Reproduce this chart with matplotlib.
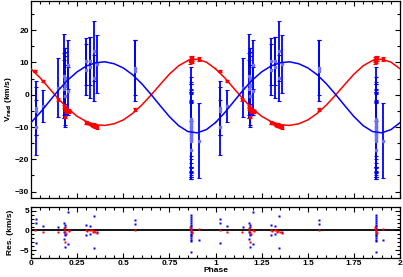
import numpy as np
import matplotlib.pyplot as plt
from matplotlib.ticker import MultipleLocator, FixedLocator

plt.rcParams['font.family'] = ['Liberation Sans', 'DejaVu Sans']
plt.rcParams['font.weight'] = 'bold'
plt.rcParams['mathtext.default'] = 'bf'

# fitted orbit, sampled every 0.05 in phase (one cycle)
model_phase = [0.00, 0.05, 0.10, 0.15, 0.20, 0.25, 0.30, 0.35, 0.40, 0.45, 0.50,
               0.55, 0.60, 0.65, 0.70, 0.75, 0.80, 0.85, 0.90, 0.95, 1.00]
red_model = [8.0, 5.2, 1.9, -1.4, -4.3, -6.7, -8.3, -9.3, -9.5, -9.0, -7.8,
             -5.8, -3.2, -0.1, 3.2, 6.4, 9.0, 10.6, 11.0, 10.1, 8.0]
blue_model = [-8.6, -5.5, -2.0, 1.5, 4.6, 7.1, 8.9, 9.9, 10.2, 9.6, 8.3,
              6.2, 3.4, 0.1, -3.4, -6.8, -9.6, -11.4, -11.8, -10.8, -8.6]

# primary (red) velocities
red_phase = [0.024, 0.063, 0.145, 0.180, 0.183, 0.184, 0.186, 0.190, 0.205, 0.208,
             0.298, 0.303, 0.322, 0.328, 0.334, 0.340, 0.348, 0.358, 0.561,
             0.862, 0.865, 0.868, 0.871, 0.874, 0.908]
red_vel = [7.4, 4.2, -1.4, -3.6, -4.2, -6.9, -4.6, -5.2, -4.9, -5.2,
           -8.6, -8.8, -9.0, -9.3, -9.6, -9.3, -9.8, -10.0, -4.5,
           10.4, 10.8, 11.1, 10.6, 11.3, 11.1]
red_err = [0.4, 0.4, 0.4, 0.4, 0.4, 0.4, 0.4, 0.4, 0.4, 0.4,
           0.4, 0.4, 0.4, 0.4, 0.4, 0.4, 0.6, 0.6, 0.4,
           0.8, 0.8, 0.8, 0.8, 0.8, 0.5]
red_res = [0.1, -0.5, -0.5, 0.5, 0.2, -3.0, -0.3, -0.8, 0.1, -0.2,
           0.1, -0.2, 0.2, 0.1, -0.3, -0.1, -0.4, -0.6, 0.1,
           0.8, 0.4, 0.0, -0.3, -0.6, 0.4]

# secondary (blue) velocities
blue_phase = [0.025, 0.025, 0.025, 0.063, 0.147,
              0.180, 0.180, 0.180, 0.184, 0.184, 0.184, 0.184, 0.184,
              0.200, 0.200, 0.298, 0.298, 0.322, 0.322, 0.342, 0.342, 0.360,
              0.561, 0.561,
              0.868, 0.868, 0.868, 0.868, 0.868, 0.868, 0.868, 0.868, 0.868,
              0.868, 0.868, 0.868, 0.868, 0.868, 0.868, 0.868, 0.868,
              0.909]
blue_vel = [-4.0, -5.1, -10.1, -3.4, 2.2,
            5.8, 3.3, 1.7, 5.1, 4.6, 2.6, -0.4, 3.0,
            9.3, 1.1, 10.3, 7.7, 10.5, 8.5, 13.6, 5.2, 9.6,
            8.4, 7.5,
            -7.5, -8.0, -8.5, -9.1, -9.7, -10.1, -10.4, -10.8, -11.3,
            -11.8, -12.3, -12.6, -13.0, -13.5, -13.9, -14.3, -17.1,
            -14.2]
blue_err = [8.4, 7.5, 8.5, 5.0, 9.2,
            13.0, 9.5, 9.0, 8.0, 10.0, 12.0, 9.6, 9.0,
            7.6, 7.5, 7.2, 7.9, 7.4, 9.5, 9.3, 7.0, 9.0,
            8.5, 9.5,
            16.0, 12.0, 14.0, 10.0, 13.0, 11.0, 12.0, 14.0, 13.0,
            12.0, 10.0, 13.0, 11.0, 12.0, 11.5, 11.8, 9.0,
            11.5]
blue_res = [3.0, 1.9, -3.1, 1.2, 0.85,
            2.0, -0.5, -2.1, 1.3, 0.8, -1.2, -4.2, -0.9,
            4.7, -3.5, 1.4, -1.2, 1.1, -0.9, 3.8, -4.6, -0.3,
            2.6, 1.7,
            4.0, 3.5, 3.0, 2.4, 1.8, 1.4, 1.1, 0.7, 0.2,
            -0.3, -0.8, -1.1, -1.5, -2.0, -2.4, -2.8, -5.6,
            -2.4]

phase_ticks = [0, 0.25, 0.5, 0.75, 1, 1.25, 1.5, 1.75, 2]
phase_labels = ['0', '0.25', '0.5', '0.75', '1', '1.25', '1.5', '1.75', '2']


def two_cycles(x):
    x = np.asarray(x, dtype=float)
    return np.concatenate([x, x + 1.0])


def twice(y):
    y = np.asarray(y, dtype=float)
    return np.concatenate([y, y])


fig = plt.figure(figsize=(4.03, 2.77), dpi=100)
ax = fig.add_axes([0.077, 0.285, 0.916, 0.711])
axr = fig.add_axes([0.077, 0.069, 0.916, 0.184])

RED = '#ff0000'
BLUE = '#0000ff'
FS = 6.0

# model curves
for k in (0, 1):
    mp = np.asarray(model_phase) + k
    ax.plot(mp, red_model, color=RED, lw=1.1, zorder=3)
    ax.plot(mp, blue_model, color=BLUE, lw=1.1, zorder=3)

# observed velocities
ax.errorbar(two_cycles(blue_phase), twice(blue_vel), yerr=twice(blue_err),
            fmt='s', ms=1.6, mfc='#6f6fff', mec='#6f6fff', ecolor=BLUE,
            elinewidth=1.3, capsize=1.4, capthick=0.8, zorder=2)
ax.errorbar(two_cycles(red_phase), twice(red_vel), yerr=twice(red_err),
            fmt='s', ms=2.0, mfc=RED, mec=RED, ecolor=RED,
            elinewidth=1.0, capsize=1.2, capthick=0.8, zorder=4)

ax.set_xlim(0, 2)
ax.set_ylim(-32, 29)
ax.set_ylabel(r'V$_{\rm rad}$ (km/s)', fontsize=FS, fontweight='bold')
ax.yaxis.set_major_locator(MultipleLocator(10))
ax.yaxis.set_minor_locator(MultipleLocator(5))
ax.xaxis.set_major_locator(FixedLocator(phase_ticks))
ax.xaxis.set_minor_locator(MultipleLocator(0.05))
ax.tick_params(labelbottom=False)

# residuals
axr.axhline(0, color='black', lw=1.3, zorder=1)
axr.plot(two_cycles(blue_phase), twice(blue_res), 's', ms=1.5,
         color=BLUE, mec='none', zorder=2)
axr.plot(two_cycles(red_phase), twice(red_res), 's', ms=1.6,
         color=RED, mec='none', zorder=3)
axr.set_xlim(0, 2)
axr.set_ylim(-7, 6)
axr.set_xticks(phase_ticks)
axr.set_xticklabels(phase_labels)
axr.xaxis.set_minor_locator(MultipleLocator(0.05))
axr.yaxis.set_major_locator(MultipleLocator(5))
axr.yaxis.set_minor_locator(MultipleLocator(1))
axr.set_xlabel('Phase', fontsize=FS, fontweight='bold', labelpad=0)
axr.set_ylabel('Res. (km/s)', fontsize=FS, fontweight='bold')

for a in (ax, axr):
    a.tick_params(which='both', direction='in', top=True, right=True,
                  labelsize=FS, pad=1.5, width=0.8)
    a.tick_params(which='major', length=3.5)
    a.tick_params(which='minor', length=2)
    for lab in a.get_xticklabels() + a.get_yticklabels():
        lab.set_fontweight('bold')
    for s in a.spines.values():
        s.set_linewidth(0.9)

# align the two y labels (right edge of the rotated text)
ax.yaxis.set_label_coords(-0.046, 0.5)
axr.yaxis.set_label_coords(-0.046, 0.5)

fig.savefig('out.png', dpi=100)
